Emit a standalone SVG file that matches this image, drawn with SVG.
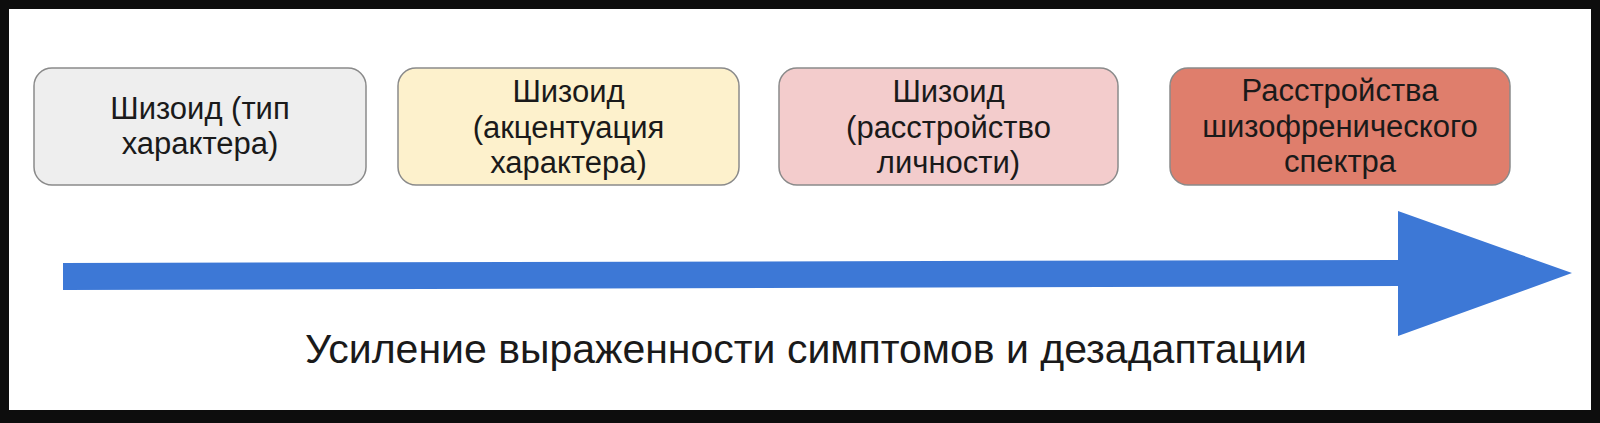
<svg xmlns="http://www.w3.org/2000/svg" width="1600" height="423" viewBox="0 0 1600 423">
<style>
.box{stroke:#8a8a8a;stroke-width:1.5}
.t{font-family:"Liberation Sans",Arial,sans-serif;font-size:31px;fill:#1a1a1a;text-anchor:middle}
.cap{font-family:"Liberation Sans",Arial,sans-serif;font-size:41px;fill:#1a1a1a;text-anchor:middle}
</style>
<rect x="0" y="0" width="1600" height="423" fill="#0d0d0d"/>
<rect x="9" y="9" width="1582" height="401" fill="#ffffff"/>
<g id="node1">
<rect class="box" x="34" y="68" width="332" height="117" rx="18" fill="#eeeeee"/>
<text class="t" x="200" y="119">Шизоид (тип</text>
<text class="t" x="200" y="154">характера)</text>
</g>
<g id="node2">
<rect class="box" x="398" y="68" width="341" height="117" rx="18" fill="#fdf1cc"/>
<text class="t" x="568.5" y="102">Шизоид</text>
<text class="t" x="568.5" y="138">(акцентуация</text>
<text class="t" x="568.5" y="173">характера)</text>
</g>
<g id="node3">
<rect class="box" x="779" y="68" width="339" height="117" rx="18" fill="#f3cccc"/>
<text class="t" x="948.5" y="102">Шизоид</text>
<text class="t" x="948.5" y="138">(расстройство</text>
<text class="t" x="948.5" y="173">личности)</text>
</g>
<g id="node4">
<rect class="box" x="1170" y="68" width="340" height="117" rx="18" fill="#df7e6c"/>
<text class="t" x="1340" y="101">Расстройства</text>
<text class="t" x="1340" y="137">шизофренического</text>
<text class="t" x="1340" y="172">спектра</text>
</g>
<g id="connectors">
<polygon points="63,263 1398,260 1398,211 1572,273 1398,336 1398,286 63,290" fill="#3d78d6"/>
</g>
<g id="label">
<text class="cap" x="806" y="363">Усиление выраженности симптомов и дезадаптации</text>
</g>
</svg>
